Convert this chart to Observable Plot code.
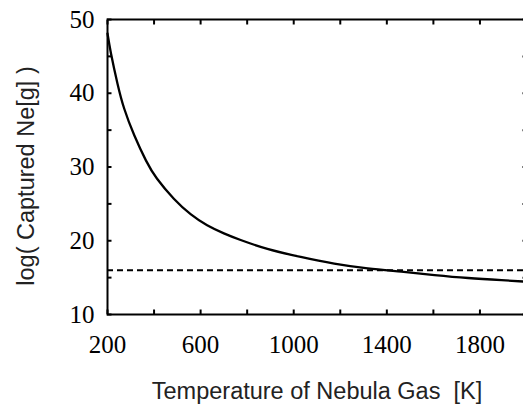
<!DOCTYPE html>
<html>
<head>
<meta charset="utf-8">
<script src="https://cdn.jsdelivr.net/npm/d3@7"></script>
<script src="https://cdn.jsdelivr.net/npm/@observablehq/plot@0.6"></script>
<style>
  html, body { margin: 0; padding: 0; background: #fff; overflow: hidden; }
  #chart svg { display: block; }
</style>
</head>
<body>
<div id="chart"></div>
<script>
// Temperature of nebula gas [K]
const temperature = [200, 215, 243, 272, 315, 365, 413, 485, 557, 628, 700, 772, 887, 1030, 1174, 1318, 1462, 1605, 1749, 1893, 2000];
// log(Captured Ne [g])
const capturedNe = [48.1, 45.4, 41.3, 37.9, 34.3, 30.9, 28.4, 25.7, 23.6, 22.1, 21.0, 20.1, 18.9, 17.8, 16.9, 16.25, 15.8, 15.35, 14.95, 14.65, 14.45];
// dashed reference level
const referenceLevel = [16.0];

const xDomain = [200, 2000];
const yDomain = [10, 50];
const xTickLabels = [200, 600, 1000, 1400, 1800];
const xTicksMinor = [200, 400, 600, 800, 1000, 1200, 1400, 1600, 1800, 2000];
const yTickLabels = [10, 20, 30, 40, 50];
const yTicksMinor = [10, 15, 20, 25, 30, 35, 40, 45, 50];

const xLabel = "Temperature of Nebula Gas\u00a0 [K]";
const yLabel = "log( Captured Ne[g] )";

const curve = temperature.map((t, i) => ({t, v: capturedNe[i]}));

const serif = "Liberation Serif, Times New Roman, serif";
const sans = "Liberation Sans, Arial, sans-serif";

const chart = Plot.plot({
  width: 523,
  height: 404,
  marginLeft: 107,
  marginTop: 19,
  marginBottom: 90,
  marginRight: -3,
  style: {background: "#fff", color: "#000", overflow: "visible"},
  x: {domain: xDomain, axis: null},
  y: {domain: yDomain, axis: null},
  marks: [
    Plot.ruleY(referenceLevel, {stroke: "#000", strokeWidth: 2, strokeDasharray: "6,4"}),
    Plot.line(curve, {x: "t", y: "v", stroke: "#000", strokeWidth: 2.3, curve: "natural"}),
    Plot.frame({stroke: "#000", strokeWidth: 2}),
    // inward ticks on all four sides
    Plot.axisX({anchor: "bottom", ticks: xTicksMinor, tickSize: -4.5, tickFormat: () => "", strokeWidth: 2, label: null}),
    Plot.axisX({anchor: "top", ticks: xTicksMinor, tickSize: -4.5, tickFormat: () => "", strokeWidth: 2, label: null}),
    Plot.axisY({anchor: "left", ticks: yTicksMinor, tickSize: -4.5, tickFormat: () => "", strokeWidth: 2, label: null}),
    Plot.axisY({anchor: "right", ticks: yTicksMinor, tickSize: -4.5, tickFormat: () => "", strokeWidth: 2, label: null}),
    // tick labels
    Plot.axisX({anchor: "bottom", ticks: xTickLabels, tickSize: 0, tickPadding: 21, tickFormat: d => String(d), fontSize: 25, fontFamily: serif, fill: "#000", label: null}),
    Plot.axisY({anchor: "left", ticks: yTickLabels, tickSize: 0, tickPadding: 13, tickFormat: d => String(d), fontSize: 25, fontFamily: serif, fill: "#000", label: null}),
    // axis titles
    Plot.text([xLabel], {text: d => d, frameAnchor: "bottom", textAnchor: "middle", lineAnchor: "middle", dy: 77, dx: 0, fontSize: 23.5, fontFamily: sans, fill: "#222"}),
    Plot.text([yLabel], {text: d => d, frameAnchor: "left", textAnchor: "middle", lineAnchor: "middle", rotate: -90, dx: -81, dy: 9, fontSize: 23.5, fontFamily: sans, fill: "#222"})
  ]
});
document.getElementById("chart").appendChild(chart);
</script>
</body>
</html>
